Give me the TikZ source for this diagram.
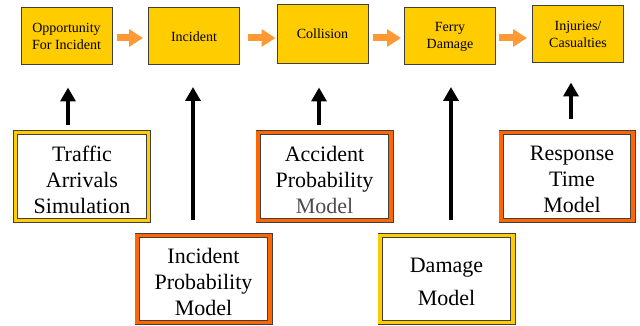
\documentclass[tikz,border=0pt]{standalone}
\usepackage{fontspec}
\setmainfont{Liberation Serif}
\usetikzlibrary{arrows.meta}
\definecolor{byellow}{HTML}{FFCC00}
\definecolor{borange}{HTML}{FF6600}
\definecolor{aorange}{HTML}{FF9933}
\definecolor{edgegray}{HTML}{404040}
\begin{document}
\begin{tikzpicture}[x=1pt,y=-1pt,
  topbox/.style={draw=edgegray, fill=byellow, line width=1pt, inner sep=0pt, align=center,
    font=\fontsize{14}{17}\selectfont, minimum width=91pt, minimum height=57pt},
  modelbox/.style={draw=edgegray, line width=0.9pt, double=#1, double distance=3.5pt, fill=white,
    inner sep=0pt, minimum width=132.7pt, minimum height=87.7pt},
  modeltext/.style={align=center, inner sep=0pt, font=\fontsize{22}{26}\selectfont},
  flow/.style={aorange, line width=7pt, -{Triangle[width=17pt,length=14pt]}},
  feed/.style={black, line width=4pt, -{Triangle[width=15pt,length=14pt]}}]
\useasboundingbox (0,0) rectangle (640,326);

% top chain
\node[topbox] (b1) at (66.5,36) {Opportunity\\For Incident};
\node[topbox] (b2) at (194,36.5) {Incident};
\node[topbox, minimum height=59pt] (b3) at (322.5,34) {Collision};
\node[topbox] (b4) at (450,36.5) {Ferry\\Damage};
\node[topbox] (b5) at (578,34) {Injuries/\\Casualties};

\draw[flow, shorten <=4pt, shorten >=5pt] (b1.east |- 0,38) -- (b2.west |- 0,38);
\draw[flow, shorten <=8pt, shorten >=1pt] (b2.east |- 0,38) -- (b3.west |- 0,38);
\draw[flow, shorten <=4pt, shorten >=3pt] (b3.east |- 0,38) -- (b4.west |- 0,38);
\draw[flow, shorten <=3pt, shorten >=5pt] (b4.east |- 0,38) -- (b5.west |- 0,38);

% model boxes
\node[modelbox=byellow] (ts) at (82,176.5) {};
\node[modeltext] (tst) at ([yshift=-3pt]ts.center) {Traffic\\Arrivals\\Simulation};
\node[modelbox=borange, minimum height=86.7pt] (ip) at (203.5,279) {};
\node[modeltext] (ipt) at ([yshift=-3pt]ip.center) {Incident\\Probability\\Model};
\node[modelbox=borange] (ap) at (324.5,176.5) {};
\node[modeltext] (apt) at ([yshift=-3pt]ap.center) {Accident\\Probability\\{\color{black!70}Model}};
\node[modelbox=borange, minimum width=131.7pt] (rt) at (567,176.5) {};
\node[modeltext] (rtt) at ([xshift=5pt,yshift=-3pt]rt.center) {Response\\Time\\Model};
\node[modelbox=byellow, minimum height=86.7pt] (dm) at (446.5,279) {};
\node[modeltext, font=\fontsize{22}{33}\selectfont] (dmt) at ([yshift=-3pt]dm.center) {Damage\\Model};

% feeding arrows
\draw[feed, shorten <=7.6pt, shorten >=22.5pt] (ts.north -| 68,0) -- (b1.south -| 68,0);
\draw[feed, shorten <=15.6pt, shorten >=21.5pt] (ip.north -| 193,0) -- (b2.south -| 193,0);
\draw[feed, shorten <=7.6pt, shorten >=23.5pt] (ap.north -| 319,0) -- (b3.south -| 319,0);
\draw[feed, shorten <=15.6pt, shorten >=21.5pt] (dm.north -| 451,0) -- (b4.south -| 451,0);
\draw[feed, shorten <=13.6pt, shorten >=19.5pt] (rt.north -| 571,0) -- (b5.south -| 571,0);
\end{tikzpicture}
\end{document}
